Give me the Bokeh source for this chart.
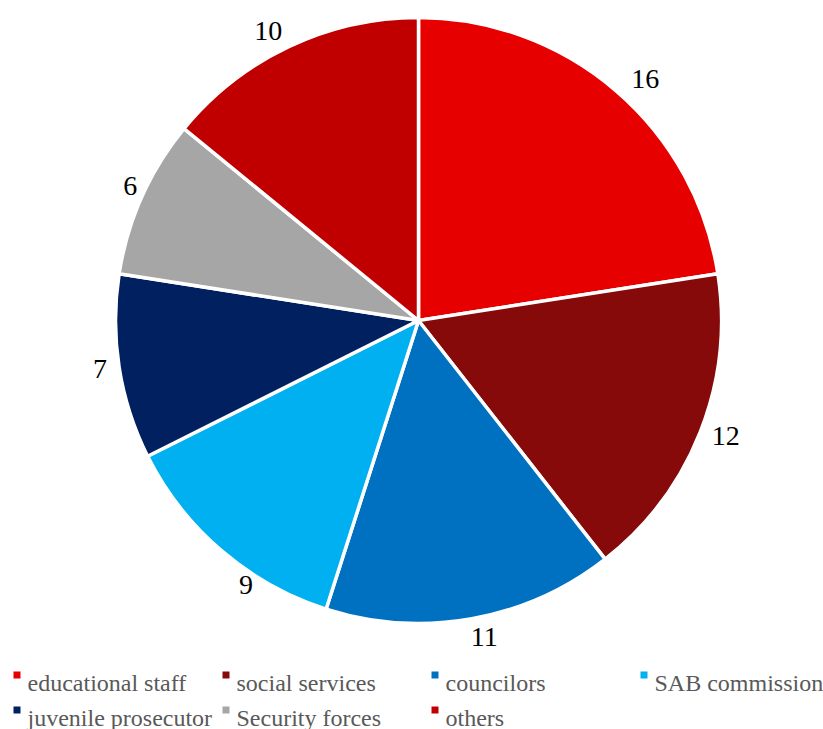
import math
from bokeh.plotting import figure
from bokeh.models import Range1d, ColumnDataSource
from bokeh.core.properties import value
from bokeh.embed import file_html
from bokeh.resources import INLINE

# ---- data ----
categories = ["educational staff", "social services", "councilors", "SAB commission",
              "juvenile prosecutor", "Security forces", "others"]
counts = [16, 12, 11, 9, 7, 6, 10]
colors = ["#E60000", "#860A0A", "#0070C0", "#00B0F0", "#002060", "#A6A6A6", "#C00000"]

# ---- layout (pixel-like data space: x right, y up) ----
W, H = 823, 729
cx, cy = 418, H - 320
R = 303
label_font = "28px"
legend_font = "24px"
serif = "Times"
# small per-label placement tweaks (degrees, px) mimicking the original label placement
label_angle_shift = [-2.6, 1.0, 1.6, 7.5, -0.3, -1.0, 2.1]
label_radial_shift = [4, 1, 0, -7, 3, -3, 0]

p = figure(width=W, height=H, output_backend="svg", toolbar_location=None,
           x_range=Range1d(0, W), y_range=Range1d(0, H),
           min_border=0, outline_line_color=None)
p.axis.visible = False
p.grid.visible = False
p.background_fill_color = "white"
p.border_fill_color = "white"

total = sum(counts)
starts, ends, lx, ly, labels = [], [], [], [], []
acc = 0
for i, v in enumerate(counts):
    a0 = math.pi / 2 - 2 * math.pi * acc / total
    a1 = math.pi / 2 - 2 * math.pi * (acc + v) / total
    starts.append(a0)
    ends.append(a1)
    mid = (a0 + a1) / 2 + math.radians(label_angle_shift[i])
    w = 13.5 * len(str(v))
    h = 20
    off = R + 8 + abs(math.cos(mid)) * w / 2 + abs(math.sin(mid)) * h / 2 + label_radial_shift[i]
    lx.append(cx + off * math.cos(mid))
    ly.append(cy + off * math.sin(mid))
    labels.append(str(v))
    acc += v

src = ColumnDataSource(dict(start=starts, end=ends, color=colors, cat=categories))
p.wedge(x=cx, y=cy, radius=R, radius_units="data", start_angle="start", end_angle="end",
        direction="clock", fill_color="color", line_color="white", line_width=3.5, source=src)

p.text(x=lx, y=ly, text=labels, text_align="center", text_baseline="middle",
       text_font=value(serif), text_font_size=label_font, text_color="#000000")

# ---- legend (manual, 4 columns) ----
ncols = 4
col_w = 209
text_x0 = 27
row_base = [H - 682, H - 717]
sq_x, sq_y, tx, ty = [], [], [], []
for i, c in enumerate(categories):
    r, col = divmod(i, ncols)
    x0 = text_x0 + col * col_w
    tx.append(x0)
    ty.append(row_base[r])
    sq_x.append(x0 - 10.5)
    sq_y.append(row_base[r] + 7.5)

p.rect(x=sq_x, y=sq_y, width=7, height=7, fill_color=colors, line_color=None)
p.text(x=tx, y=ty, text=categories, text_align="left", text_baseline="alphabetic",
       text_font=value(serif), text_font_size=legend_font, text_color="#595959")

open("out.html", "w").write(file_html(p, INLINE))
